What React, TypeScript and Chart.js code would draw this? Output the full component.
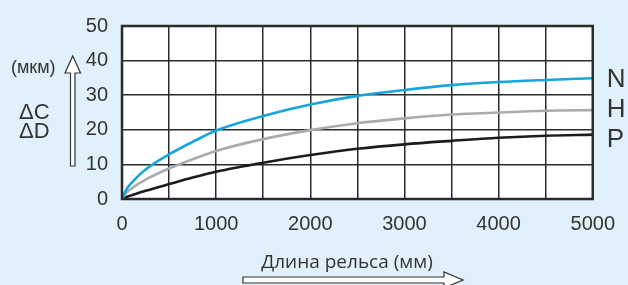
import React, { useEffect, useRef } from "react";
import { Chart, registerables } from "chart.js";

Chart.register(...registerables);

const lengthsMm = [0, 50, 100, 250, 500, 750, 1000, 1500, 2000, 2500, 3000, 3500, 4000, 4500, 5000];
const seriesN = [0, 2.9, 4.6, 8.5, 12.9, 16.5, 19.8, 24.0, 27.3, 29.8, 31.5, 32.9, 33.8, 34.4, 34.9];
const seriesH = [0, 1.9, 3.0, 5.6, 8.8, 11.5, 13.9, 17.3, 19.9, 21.9, 23.3, 24.4, 25.0, 25.5, 25.7];
const seriesP = [0, 0.6, 1.05, 2.35, 4.3, 6.2, 7.9, 10.5, 12.7, 14.5, 15.8, 16.8, 17.7, 18.3, 18.6];
const seriesNames = ["N", "H", "P"];
const xTitle = "Длина рельса (мм)";
const yUnit = "(мкм)";
const yLabels = ["ΔC", "ΔD"];

const BG = "#e0f1fb";
const INK = "#2b2b2b";

const decorPlugin = {
  id: "decor",
  beforeDraw(chart: any) {
    const { ctx, chartArea: a } = chart;
    ctx.save();
    ctx.fillStyle = BG;
    ctx.fillRect(0, 0, chart.width, chart.height);
    ctx.fillStyle = "#ffffff";
    ctx.fillRect(a.left, a.top, a.right - a.left, a.bottom - a.top);
    ctx.restore();
  },
  afterDraw(chart: any) {
    const { ctx, chartArea: a } = chart;
    const ys = chart.scales.y;
    ctx.save();
    // frame
    ctx.strokeStyle = INK;
    ctx.lineWidth = 2.5;
    ctx.strokeRect(a.left, a.top, a.right - a.left, a.bottom - a.top);

    // series names at right
    ctx.fillStyle = "#333";
    ctx.font = "26px 'Liberation Sans', Arial, sans-serif";
    ctx.textAlign = "left";
    ctx.textBaseline = "middle";
    const last = lengthsMm.length - 1;
    const yN = ys.getPixelForValue(seriesN[last]) + 2;
    seriesNames.forEach((n, i) => {
      ctx.fillText(n, a.right + 14, yN + i * 30);
    });

    // left labels
    ctx.font = "18px 'Liberation Sans', Arial, sans-serif";
    ctx.textAlign = "left";
    ctx.fillText(yUnit, 11, 68);
    ctx.font = "22px 'Liberation Sans', Arial, sans-serif";
    ctx.fillText(yLabels[0], 19, 113);
    ctx.fillText(yLabels[1], 19, 132);

    // up arrow
    ctx.fillStyle = "#ffffff";
    ctx.strokeStyle = "#333";
    ctx.lineWidth = 1.2;
    ctx.beginPath();
    ctx.moveTo(70.5, 166);
    ctx.lineTo(70.5, 73);
    ctx.lineTo(65, 73);
    ctx.lineTo(72.7, 56);
    ctx.lineTo(80.5, 73);
    ctx.lineTo(75, 73);
    ctx.lineTo(75, 166);
    ctx.closePath();
    ctx.fill();
    ctx.stroke();

    // x title
    ctx.fillStyle = "#333";
    ctx.font = "19px 'Open Sans', sans-serif";
    ctx.textAlign = "center";
    ctx.textBaseline = "alphabetic";
    ctx.fillText(xTitle, 347, 268);

    // right arrow
    ctx.fillStyle = "#ffffff";
    ctx.strokeStyle = "#333";
    ctx.beginPath();
    ctx.moveTo(243, 277);
    ctx.lineTo(444, 277);
    ctx.lineTo(444, 272);
    ctx.lineTo(463, 280);
    ctx.lineTo(444, 288);
    ctx.lineTo(444, 283);
    ctx.lineTo(243, 283);
    ctx.closePath();
    ctx.fill();
    ctx.stroke();
    ctx.restore();
  },
};

export default function App() {
  const ref = useRef<HTMLCanvasElement | null>(null);
  useEffect(() => {
    if (!ref.current) return;
    const mk = (vals: number[]) => lengthsMm.map((x, i) => ({ x, y: vals[i] }));
    const ds = (label: string, vals: number[], color: string) => ({
      label,
      data: mk(vals),
      borderColor: color,
      borderWidth: 2.6,
      pointRadius: 0,
      fill: false,
      cubicInterpolationMode: "monotone" as const,
    });
    const chart = new Chart(ref.current, {
      type: "line",
      data: {
        datasets: [
          ds(seriesNames[0], seriesN, "#16a6dc"),
          ds(seriesNames[1], seriesH, "#ababab"),
          ds(seriesNames[2], seriesP, "#1c1c1c"),
        ],
      },
      options: {
        animation: false,
        responsive: false,
        devicePixelRatio: 1,
        layout: { padding: { left: 0, top: 22, right: 30, bottom: 0 } },
        plugins: { legend: { display: false }, tooltip: { enabled: false } },
        scales: {
          x: {
            type: "linear",
            min: 0,
            max: 5000,
            afterFit: (s: any) => { s.height = 86; },
            border: { display: false },
            grid: { color: INK, lineWidth: 1.5, drawTicks: false },
            ticks: {
              stepSize: 500,
              autoSkip: false,
              maxRotation: 0,
              padding: 13,
              color: "#333",
              font: { family: "'Liberation Sans', Arial, sans-serif", size: 20 },
              callback: (v: any) => (Number(v) % 1000 === 0 ? String(v) : ""),
            },
          },
          y: {
            min: 0,
            max: 50,
            afterFit: (s: any) => { s.width = 122; },
            border: { display: false },
            grid: { color: INK, lineWidth: 1.5, drawTicks: false },
            ticks: {
              stepSize: 10,
              padding: 14,
              color: "#333",
              font: { family: "'Liberation Sans', Arial, sans-serif", size: 20 },
            },
          },
        },
      },
      plugins: [decorPlugin],
    });
    return () => chart.destroy();
  }, []);
  return (
    <div style={{ position: "fixed", left: 0, top: 0, width: 628, height: 285, background: BG }}>
      <canvas ref={ref} width={628} height={285} style={{ display: "block" }} />
    </div>
  );
}
